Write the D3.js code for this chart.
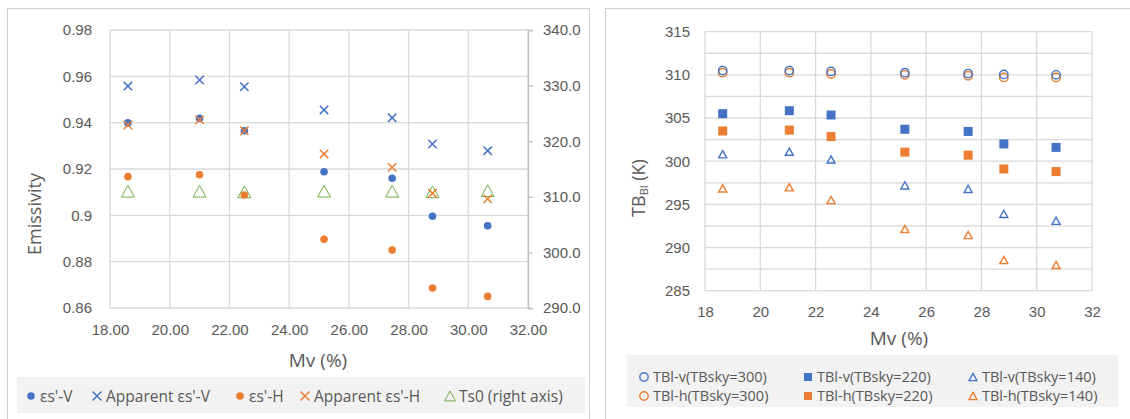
<!DOCTYPE html>
<html>
<head>
<meta charset="utf-8">
<script src="https://cdn.jsdelivr.net/npm/d3@7"></script>
<style>
  body { margin: 0; background: #fff; }
  svg { display: block; font-family: "Open Sans", "Noto Sans", sans-serif; }
</style>
</head>
<body>
<svg id="chart" width="1130" height="419"></svg>
<script>
// Left chart data
const mvLeft = [18.6, 21.0, 22.5, 25.17, 27.45, 28.8, 30.65];
const esV = [0.9399, 0.9419, 0.9365, 0.9188, 0.9160, 0.8996, 0.8955];
const appEsV = [0.9558, 0.9584, 0.9555, 0.9455, 0.9421, 0.9308, 0.9279];
const esH = [0.9167, 0.9175, 0.9088, 0.8897, 0.8850, 0.8686, 0.8650];
const appEsH = [0.9390, 0.9412, 0.9365, 0.9265, 0.9207, 0.9095, 0.9071];
const ts0 = [311.0, 311.0, 310.9, 311.0, 311.0, 310.9, 311.1];
const leftXTicks = [18, 20, 22, 24, 26, 28, 30, 32];
const leftYTicks = [0.86, 0.88, 0.9, 0.92, 0.94, 0.96, 0.98];
const rightAxisTicks = [290, 300, 310, 320, 330, 340];

// Right chart data
const mvRight = [18.64, 21.05, 22.56, 25.23, 27.52, 28.81, 30.7];
const tblV300 = [310.5, 310.5, 310.4, 310.25, 310.15, 310.05, 310.0];
const tblH300 = [310.25, 310.25, 310.1, 310.0, 309.9, 309.7, 309.7];
const tblV220 = [305.5, 305.85, 305.35, 303.7, 303.45, 302.0, 301.6];
const tblH220 = [303.5, 303.6, 302.85, 301.05, 300.7, 299.1, 298.8];
const tblV140 = [300.8, 301.1, 300.2, 297.2, 296.8, 293.9, 293.1];
const tblH140 = [296.85, 296.98, 295.5, 292.15, 291.45, 288.55, 287.98];
const rightXTicks = [18, 20, 22, 24, 26, 28, 30, 32];
const rightYTicks = [285, 290, 295, 300, 305, 310, 315];
const rightYGrid = [285, 287.5, 290, 292.5, 295, 297.5, 300, 302.5, 305, 307.5, 310, 312.5, 315];

const BLUE = '#4472C4', ORANGE = '#ED7D31', GREEN = '#70AD47';
const GRID = '#d9d9d9', TEXT = '#595959';

const svg = d3.select('#chart');

// panel frames
svg.append('rect').attr('x', 7.5).attr('y', 8.5).attr('width', 582).attr('height', 430)
  .attr('fill', '#fff').attr('stroke', '#d0d0d0');
svg.append('rect').attr('x', 605.5).attr('y', 8.5).attr('width', 540).attr('height', 430)
  .attr('fill', '#fff').attr('stroke', '#d0d0d0');

// marker helpers
function dot(g, x, y, color, r) {
  g.append('circle').attr('cx', x).attr('cy', y).attr('r', r).attr('fill', color);
}
function cross(g, x, y, color, s) {
  g.append('path').attr('d', `M${x - s},${y - s}L${x + s},${y + s}M${x - s},${y + s}L${x + s},${y - s}`)
    .attr('stroke', color).attr('stroke-width', 1.5).attr('fill', 'none');
}
function tri(g, x, y, color, s, sw) {
  const h = s * 0.9;
  g.append('path').attr('d', `M${x},${y - h}L${x + s},${y + h}L${x - s},${y + h}Z`)
    .attr('stroke', color).attr('stroke-width', sw).attr('fill', 'none');
}
function ring(g, x, y, color, r) {
  g.append('circle').attr('cx', x).attr('cy', y).attr('r', r).attr('fill', 'none')
    .attr('stroke', color).attr('stroke-width', 1.4);
}
function square(g, x, y, color, s) {
  g.append('rect').attr('x', x - s).attr('y', y - s).attr('width', 2 * s).attr('height', 2 * s).attr('fill', color);
}

// ---------------- Left chart ----------------
const L = { left: 110, right: 528, top: 30, bottom: 308 };
const xL = d3.scaleLinear().domain([18, 32]).range([L.left, L.right]);
const yL = d3.scaleLinear().domain([0.86, 0.98]).range([L.bottom, L.top]);
const yR = d3.scaleLinear().domain([290, 340]).range([L.bottom, L.top]);

const left = svg.append('g');

// grid
left.append('g').selectAll('line').data(leftYTicks).enter().append('line')
  .attr('x1', L.left).attr('x2', L.right).attr('y1', d => yL(d)).attr('y2', d => yL(d))
  .attr('stroke', GRID).attr('stroke-width', 1.3);
left.append('g').selectAll('line').data(leftXTicks).enter().append('line')
  .attr('y1', L.top).attr('y2', L.bottom).attr('x1', d => xL(d)).attr('x2', d => xL(d))
  .attr('stroke', GRID).attr('stroke-width', 1.3);

// axes
const axL = left.append('g').attr('transform', `translate(${L.left},0)`)
  .call(d3.axisLeft(yL).tickValues(leftYTicks).tickSize(0).tickPadding(18).tickFormat(d => String(+d.toFixed(2))));
const axB = left.append('g').attr('transform', `translate(0,${L.bottom})`)
  .call(d3.axisBottom(xL).tickValues(leftXTicks).tickSize(0).tickPadding(16).tickFormat(d3.format('.2f')));
const axR = left.append('g').attr('transform', `translate(${L.right},0)`)
  .call(d3.axisRight(yR).tickValues(rightAxisTicks).tickSize(5).tickSizeOuter(5).tickPadding(10).tickFormat(d3.format('.1f')));
[axL, axB].forEach(a => a.select('.domain').remove());
axR.select('.domain').attr('stroke', '#bfbfbf').attr('stroke-width', 1.3);
axR.selectAll('.tick line').attr('stroke', '#bfbfbf').attr('stroke-width', 1.3);
[axL, axB, axR].forEach(a => a.selectAll('text').attr('fill', TEXT).style('font-size', '15px'));

// titles
left.append('text').attr('transform', 'translate(41,214) rotate(-90)')
  .attr('text-anchor', 'middle').attr('fill', TEXT).style('font-size', '18px').text('Emissivity');
left.append('text').attr('x', 318).attr('y', 367).attr('text-anchor', 'middle')
  .attr('fill', TEXT).style('font-size', '19px').text('Mv (%)');

// points
const pts = left.append('g');
mvLeft.forEach((m, i) => tri(pts, xL(m), yR(ts0[i]), GREEN, 6.5, 1));
mvLeft.forEach((m, i) => dot(pts, xL(m), yL(esH[i]), ORANGE, 3.8));
mvLeft.forEach((m, i) => dot(pts, xL(m), yL(esV[i]), BLUE, 3.8));
mvLeft.forEach((m, i) => cross(pts, xL(m), yL(appEsV[i]), BLUE, 4.2));
mvLeft.forEach((m, i) => cross(pts, xL(m), yL(appEsH[i]), ORANGE, 4.2));

// legend
const legL = left.append('g');
legL.append('rect').attr('x', 17).attr('y', 377).attr('width', 568).attr('height', 36).attr('fill', '#f2f2f2');
const legLItems = [
  { mark: 'dot', color: BLUE, label: "εs'-V", mx: 31 },
  { mark: 'cross', color: BLUE, label: "Apparent εs'-V", mx: 97 },
  { mark: 'dot', color: ORANGE, label: "εs'-H", mx: 240 },
  { mark: 'cross', color: ORANGE, label: "Apparent εs'-H", mx: 305 },
  { mark: 'tri', color: GREEN, label: 'Ts0 (right axis)', mx: 450 }
];
legLItems.forEach(it => {
  const cy = 396;
  if (it.mark === 'dot') dot(legL, it.mx, cy, it.color, 3.8);
  if (it.mark === 'cross') cross(legL, it.mx, cy, it.color, 4.5);
  if (it.mark === 'tri') tri(legL, it.mx, cy, it.color, 5.5, 1);
  legL.append('text').attr('x', it.mx + 9).attr('y', cy + 5.5).attr('fill', TEXT)
    .style('font-size', '15.5px').text(it.label);
});

// ---------------- Right chart ----------------
const R = { left: 705, right: 1092, top: 31.7, bottom: 290.7 };
const x2 = d3.scaleLinear().domain([18, 32]).range([R.left, R.right]);
const y2 = d3.scaleLinear().domain([285, 315]).range([R.bottom, R.top]);

const right = svg.append('g');
right.append('g').selectAll('line').data(rightYGrid).enter().append('line')
  .attr('x1', R.left).attr('x2', R.right).attr('y1', d => y2(d)).attr('y2', d => y2(d))
  .attr('stroke', GRID).attr('stroke-width', 1.3);
right.append('g').selectAll('line').data(rightXTicks).enter().append('line')
  .attr('y1', R.top).attr('y2', R.bottom).attr('x1', d => x2(d)).attr('x2', d => x2(d))
  .attr('stroke', GRID).attr('stroke-width', 1.3);

const ax2L = right.append('g').attr('transform', `translate(${R.left},0)`)
  .call(d3.axisLeft(y2).tickValues(rightYTicks).tickSize(0).tickPadding(15).tickFormat(d3.format('d')));
const ax2B = right.append('g').attr('transform', `translate(0,${R.bottom})`)
  .call(d3.axisBottom(x2).tickValues(rightXTicks).tickSize(0).tickPadding(16).tickFormat(d3.format('d')));
[ax2L, ax2B].forEach(a => {
  a.select('.domain').remove();
  a.selectAll('text').attr('fill', TEXT).style('font-size', '15px');
});

const yt = right.append('text').attr('transform', 'translate(645,188) rotate(-90)')
  .attr('text-anchor', 'middle').attr('fill', TEXT).style('font-size', '18px');
yt.append('tspan').text('TB');
yt.append('tspan').attr('baseline-shift', '-25%').style('font-size', '11px').text('Bl');
yt.append('tspan').text(' (K)');
right.append('text').attr('x', 899).attr('y', 345).attr('text-anchor', 'middle')
  .attr('fill', TEXT).style('font-size', '19px').text('Mv (%)');

const pts2 = right.append('g');
mvRight.forEach((m, i) => tri(pts2, x2(m), y2(tblH140[i]), ORANGE, 4, 1.4));
mvRight.forEach((m, i) => tri(pts2, x2(m), y2(tblV140[i]), BLUE, 4, 1.4));
mvRight.forEach((m, i) => square(pts2, x2(m), y2(tblH220[i]), ORANGE, 4.5));
mvRight.forEach((m, i) => square(pts2, x2(m), y2(tblV220[i]), BLUE, 4.5));
mvRight.forEach((m, i) => ring(pts2, x2(m), y2(tblH300[i]), ORANGE, 4.2));
mvRight.forEach((m, i) => ring(pts2, x2(m), y2(tblV300[i]), BLUE, 4.2));

const legR = right.append('g');
legR.append('rect').attr('x', 627).attr('y', 355).attr('width', 491).attr('height', 52).attr('fill', '#f2f2f2');
const legRItems = [
  { mark: 'ring', color: BLUE, label: 'TBl-v(TBsky=300)', mx: 644, cy: 377 },
  { mark: 'square', color: BLUE, label: 'TBl-v(TBsky=220)', mx: 808, cy: 377 },
  { mark: 'tri', color: BLUE, label: 'TBl-v(TBsky=140)', mx: 973, cy: 377 },
  { mark: 'ring', color: ORANGE, label: 'TBl-h(TBsky=300)', mx: 644, cy: 396 },
  { mark: 'square', color: ORANGE, label: 'TBl-h(TBsky=220)', mx: 808, cy: 396 },
  { mark: 'tri', color: ORANGE, label: 'TBl-h(TBsky=140)', mx: 973, cy: 396 }
];
legRItems.forEach(it => {
  if (it.mark === 'ring') ring(legR, it.mx, it.cy, it.color, 4.2);
  if (it.mark === 'square') square(legR, it.mx, it.cy, it.color, 4);
  if (it.mark === 'tri') tri(legR, it.mx, it.cy, it.color, 4, 1.3);
  legR.append('text').attr('x', it.mx + 9).attr('y', it.cy + 5).attr('fill', TEXT)
    .style('font-size', '14.5px').text(it.label);
});
</script>
</body>
</html>
